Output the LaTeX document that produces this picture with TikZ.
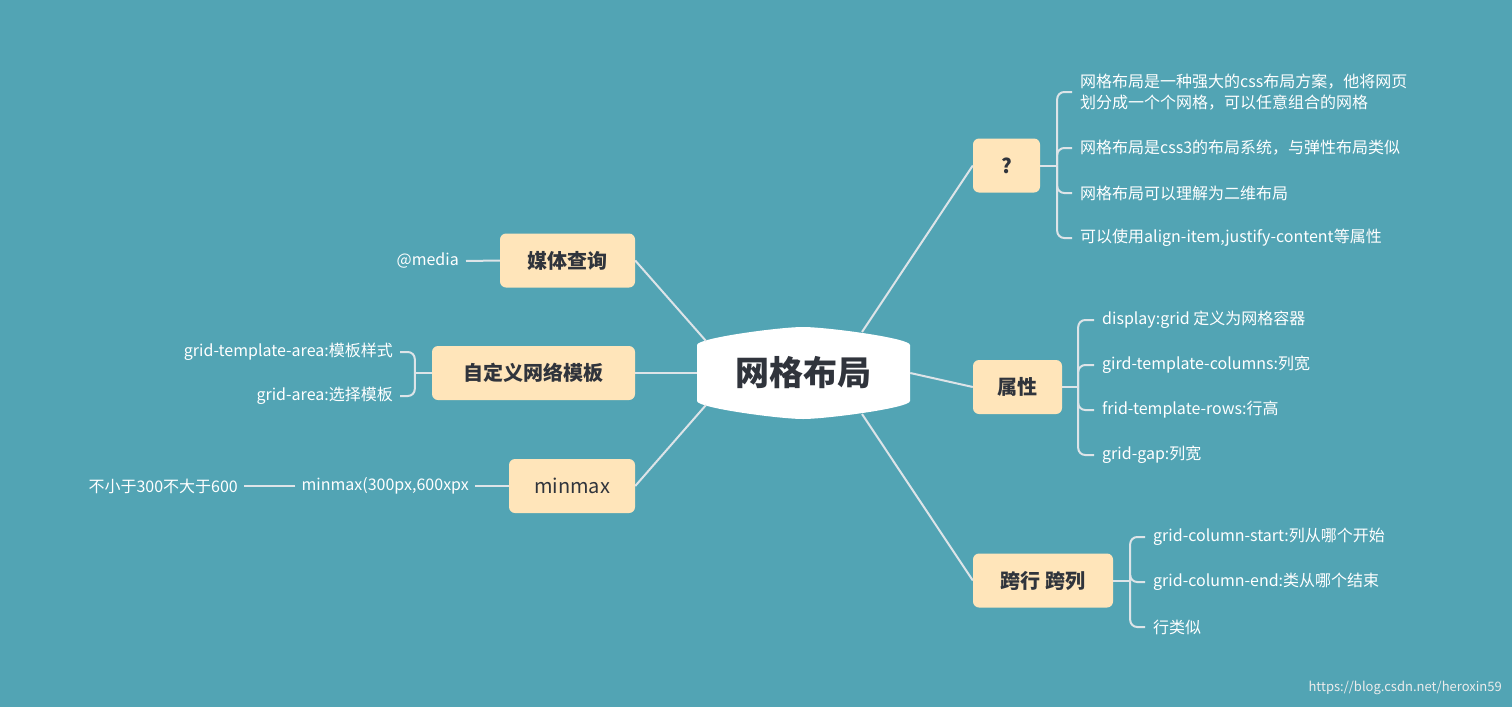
\documentclass[tikz,border=0pt]{standalone}
\usepackage{fontspec}
\setmainfont{Noto Sans CJK SC}
\definecolor{bg}{HTML}{52A4B4}
\definecolor{boxc}{HTML}{FFE5BA}
\definecolor{ln}{HTML}{DDE4E8}
\definecolor{dk}{HTML}{30343C}
\begin{document}
\begin{tikzpicture}[x=1pt,y=-1pt,
 topic/.style={fill=boxc,rounded corners=6pt,text=dk,font=\fontsize{20}{22}\selectfont\bfseries,inner sep=0,minimum height=54pt},
 leafr/.style={anchor=west,text=white,font=\fontsize{16}{21}\selectfont,inner xsep=8pt,inner ysep=0,align=left},
 leafl/.style={anchor=east,text=white,font=\fontsize{16}{21}\selectfont,inner xsep=7pt,inner ysep=0},
 con/.style={draw=ln,line width=2pt},
 brk/.style={draw=ln,line width=2pt,rounded corners=7pt}]
\fill[bg] (0,0) rectangle (1512,707);
\useasboundingbox (0,0) rectangle (1512,707);
% central
\fill[white] (697,345) .. controls (697,338) and (780,327) .. (803,327) .. controls (826,327) and (910,338) .. (910,345)
 -- (910,401) .. controls (910,408) and (826,419) .. (803,419) .. controls (780,419) and (697,408) .. (697,401) -- cycle;
\node[text=dk,font=\fontsize{34}{36}\selectfont\bfseries,minimum width=213pt,minimum height=70pt,inner sep=0] (c) at (803.5,373) {网格布局};
% topics
\node[topic,minimum width=67pt] (q) at (1006.5,165.5) {?};
\node[topic,minimum width=89pt] (p) at (1017.5,387) {属性};
\node[topic,minimum width=140pt] (k) at (1043,580.5) {跨行 跨列};
\node[topic,minimum width=135pt] (m) at (567.5,260.5) {媒体查询};
\node[topic,minimum width=203pt] (z) at (533.5,373) {自定义网络模板};
\node[topic,minimum width=126pt,font=\fontsize{20}{22}\selectfont] (x) at (572,486) {minmax};
\coordinate (c1) at (862,332); \coordinate (c2) at (862,414);
\coordinate (c3) at (706,341); \coordinate (c4) at (706,405);
\draw[con] (c1) -- (q.west);
\draw[con] (c.east) -- (p.west);
\draw[con] (c2) -- (k.west);
\draw[con] (c3) -- (m.east);
\draw[con] (c.west) -- (z.east);
\draw[con] (c4) -- (x.east);
% ? leaves
\node[leafr] (q1) at (1072,92) {网格布局是一种强大的css布局方案，他将网页\\划分成一个个网格，可以任意组合的网格};
\node[leafr] (q2) at (1072,148) {网格布局是css3的布局系统，与弹性布局类似};
\node[leafr] (q3) at (1072,193) {网格布局可以理解为二维布局};
\node[leafr] (q4) at (1072,238) {可以使用align-item,justify-content等属性};
\draw[con] (q.east) -- ++(17,0) coordinate (qj);
\foreach \l in {q1,q2,q3,q4} \draw[brk] (qj) |- (\l.west);
% 属性 leaves
\node[leafr] (p1) at (1094,320) {display:grid 定义为网格容器};
\node[leafr] (p2) at (1094,365) {gird-template-columns:列宽};
\node[leafr] (p3) at (1094,410) {frid-template-rows:行高};
\node[leafr] (p4) at (1094,455) {grid-gap:列宽};
\draw[con] (p.east) -- ++(16,0) coordinate (pj);
\foreach \l in {p1,p2,p3,p4} \draw[brk] (pj) |- (\l.west);
% 跨行 leaves
\node[leafr] (k1) at (1145,537) {grid-column-start:列从哪个开始};
\node[leafr] (k2) at (1145,582) {grid-column-end:类从哪个结束};
\node[leafr] (k3) at (1145,627) {行类似};
\draw[con] (k.east) -- ++(17,0) coordinate (kj);
\foreach \l in {k1,k2,k3} \draw[brk] (kj) |- (\l.west);
% left
\node[leafl] (m1) at (466,261) {@media};
\draw[con] (m.west) -- (m1.east);
\node[leafl] (z1) at (400,352) {grid-template-area:模板样式};
\node[leafl] (z2) at (400,396) {grid-area:选择模板};
\draw[con] (z.west) -- ++(-17,0) coordinate (zj);
\foreach \l in {z1,z2} \draw[brk] (zj) |- (\l.east);
\node[leafl,inner xsep=6pt] (x1) at (475,486) {minmax(300px,600xpx};
\draw[con] (x.west) -- (x1.east);
\node[leafl,inner xsep=6pt] (x2) at (244,486) {不小于300不大于600};
\draw[con] (x1.west) -- (x2.east);
\node[anchor=east,text=white!85!gray,font=\fontsize{13}{14}\selectfont,inner sep=0] (w) at (1502,688) {https://blog.csdn.net/heroxin59};
\end{tikzpicture}
\end{document}
